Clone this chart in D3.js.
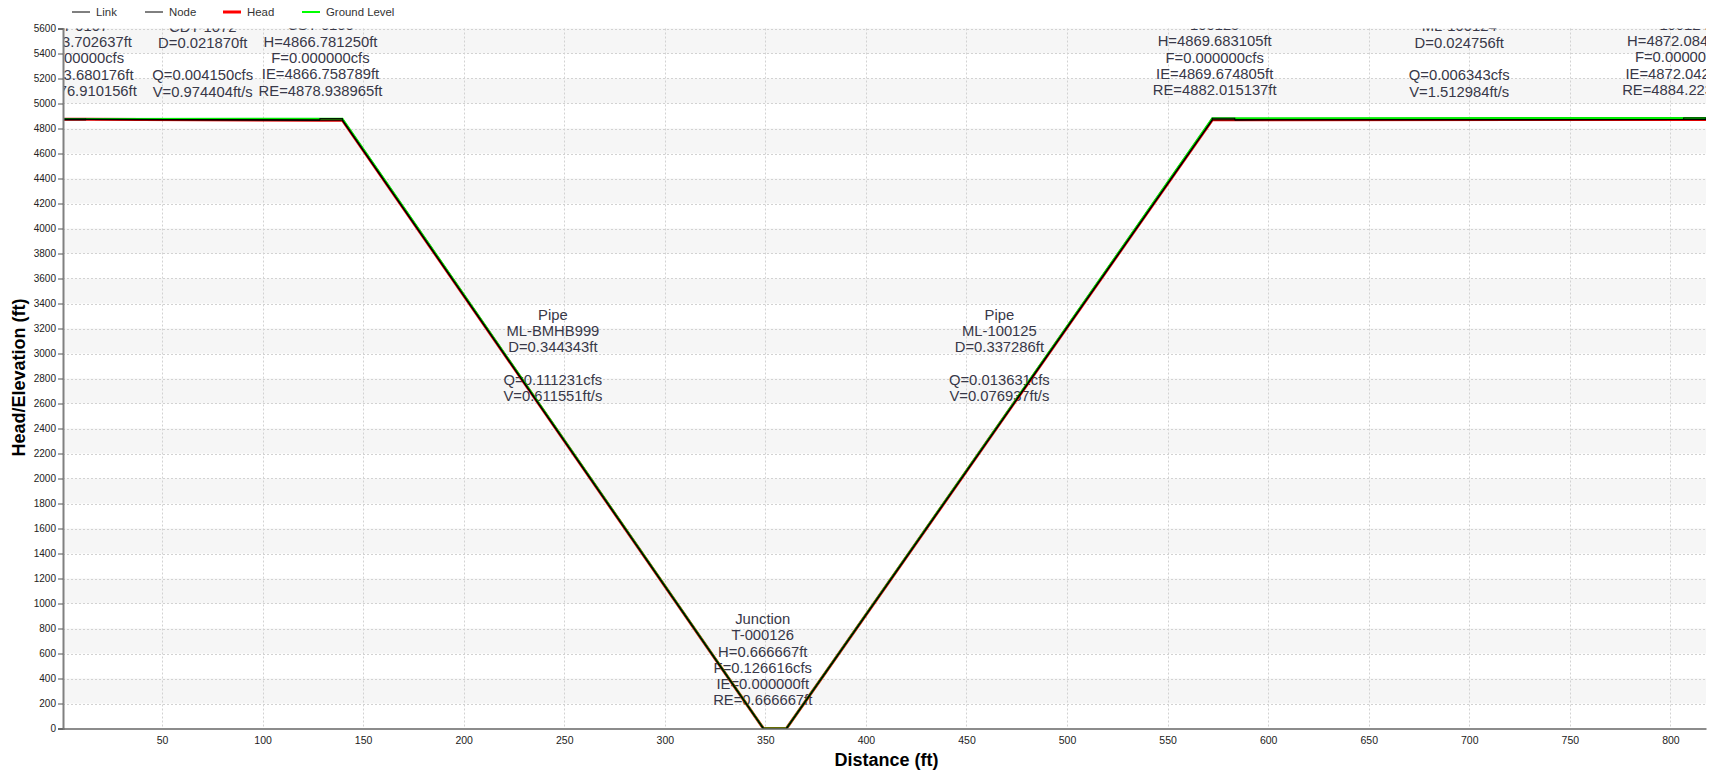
<!DOCTYPE html>
<html><head><meta charset="utf-8">
<script src="https://cdn.jsdelivr.net/npm/d3@7"></script>
<style>body{margin:0;background:#fff;} text{font-family:"Liberation Sans",Arial,sans-serif;}</style>
</head><body><svg id="c" width="1716" height="774"></svg>
<script>
// ---- data ----
const nodeTypes = ["Junction","Junction","Junction","Junction","Junction"];
const nodeIds = ["CST-0107","CST-0100","T-000126","100125","100124"];
const nodeStart = [0.77, 128.5, 349.0, 572.2, 806.6];
const nodeEnd = [12.0, 139.7, 360.5, 583.4, 817.7];
const nodeLabelX = [6.7, 128.8, 348.7, 573.4, 806.8];
const nodeH = [4873.702637, 4866.781250, 0.666667, 4869.683105, 4872.084229];
const nodeF = [0.000000, 0.000000, 0.126616, 0.000000, 0.000000];
const nodeIE = [4873.680176, 4866.758789, 0.000000, 4869.674805, 4872.042236];
const nodeRE = [4876.910156, 4878.938965, 0.666667, 4882.015137, 4884.223145];
const linkTypes = ["Pipe","Pipe","Pipe","Pipe"];
const linkIds = ["CDT-1072","ML-BMHB999","ML-100125","ML-100124"];
const linkD = [0.021870, 0.344343, 0.337286, 0.024756];
const linkQ = [0.004150, 0.111231, 0.013631, 0.006343];
const linkV = [0.974404, 0.611551, 0.076937, 1.512984];
const yTicks = d3.range(0, 5601, 200);
const xTicks = d3.range(50, 801, 50);
const legendNames = ["Link","Node","Head","Ground Level"];
const legendColors = ["#000","#000","#ff0000","#00ff00"];
const legendWidths = [1,1,3,2];

// ---- layout ----
const L = 63, R = 1706, T = 28.5, B = 728.5;
const x = d3.scaleLinear().domain([0.77, 817.7]).range([L, R]);
const y = d3.scaleLinear().domain([0, 5600]).range([B, T]);
const svg = d3.select("#c");

svg.append("defs").append("clipPath").attr("id","clip")
  .append("rect").attr("x",L).attr("y",T).attr("width",R-L).attr("height",B-T);

// bands
svg.append("g").selectAll("rect").data(yTicks.filter(v => v < 5600 && (v/200)%2===1))
  .join("rect").attr("x",L).attr("width",R-L)
  .attr("y",d=>y(d+200)).attr("height",d=>y(d)-y(d+200)).attr("fill","#f6f6f6");

// grid
const grid = svg.append("g").attr("stroke","#d2d2d2").attr("stroke-dasharray","2,2").attr("stroke-width",1);
grid.selectAll("line.h").data(yTicks.filter(v=>v>0)).join("line").attr("class","h")
  .attr("x1",L).attr("x2",R).attr("y1",d=>Math.round(y(d))+0.5).attr("y2",d=>Math.round(y(d))+0.5);
grid.selectAll("line.v").data(xTicks).join("line").attr("class","v")
  .attr("y1",T).attr("y2",B).attr("x1",d=>Math.round(x(d))+0.5).attr("x2",d=>Math.round(x(d))+0.5);

// labels (under lines)
const plot = svg.append("g").attr("clip-path","url(#clip)");
const lh = 16.3, off = 23, fs = 14.8;
function label(cx, anchorVal, lines){
  const base = y(anchorVal) - off;
  const t = plot.append("text").attr("text-anchor","middle").attr("font-size",fs).attr("fill","#383848");
  lines.forEach((s,i)=>{
    t.append("tspan").attr("x",x(cx)).attr("y",base - (lines.length-1-i)*lh).text(s);
  });
}
nodeIds.forEach((id,i)=>{
  label(nodeLabelX[i], nodeRE[i], [nodeTypes[i], id, "H="+nodeH[i].toFixed(6)+"ft",
    "F="+nodeF[i].toFixed(6)+"cfs", "IE="+nodeIE[i].toFixed(6)+"ft", "RE="+nodeRE[i].toFixed(6)+"ft"]);
});
linkIds.forEach((id,i)=>{
  const cx = (nodeEnd[i]+nodeStart[i+1])/2;
  const av = (nodeIE[i]+nodeIE[i+1])/2;
  label(cx, av, [linkTypes[i], id, "D="+linkD[i].toFixed(6)+"ft", "",
    "Q="+linkQ[i].toFixed(6)+"cfs", "V="+linkV[i].toFixed(6)+"ft/s"]);
});

// lines
const line = d3.line().x(d=>x(d[0])).y(d=>y(d[1]));
const ground = [], head = [];
nodeIds.forEach((_,i)=>{
  ground.push([nodeStart[i],nodeRE[i]],[nodeEnd[i],nodeRE[i]]);
  head.push([nodeStart[i],nodeH[i]],[nodeEnd[i],nodeH[i]]);
});
plot.append("path").attr("d",line(head)).attr("fill","none").attr("stroke","#e00000").attr("stroke-width",3);
plot.append("path").attr("d",line(ground)).attr("fill","none").attr("stroke","#00ee00").attr("stroke-width",2);
linkIds.forEach((_,i)=>{
  const inv = [[nodeEnd[i],nodeIE[i]],[nodeStart[i+1],nodeIE[i+1]]];
  const crn = [[nodeEnd[i],nodeIE[i]+linkD[i]],[nodeStart[i+1],nodeIE[i+1]+linkD[i]]];
  plot.append("path").attr("d",line(inv)).attr("fill","none").attr("stroke","#000").attr("stroke-width",1.2);
  plot.append("path").attr("d",line(crn)).attr("fill","none").attr("stroke","#000").attr("stroke-width",1.2);
});
nodeIds.forEach((_,i)=>{
  plot.append("rect").attr("x",x(nodeStart[i])).attr("width",x(nodeEnd[i])-x(nodeStart[i]))
    .attr("y",y(nodeRE[i])).attr("height",Math.max(1,y(nodeIE[i])-y(nodeRE[i])))
    .attr("fill","none").attr("stroke","#000").attr("stroke-width",1);
});

// axes
const ya = svg.append("g").attr("transform",`translate(${L},0)`)
  .call(d3.axisLeft(y).tickValues(yTicks).tickSize(5).tickPadding(2).tickFormat(d3.format("d")));
ya.select(".domain").attr("stroke","#808080").attr("stroke-width",2);
ya.selectAll(".tick line").attr("stroke","#555");
ya.selectAll("text").attr("font-size",10).attr("fill","#222").attr("font-family","Liberation Sans, Arial, sans-serif");
const xa = svg.append("g").attr("transform",`translate(0,${B})`)
  .call(d3.axisBottom(x).tickValues(xTicks).tickSize(0).tickPadding(8).tickFormat(d3.format("d")));
xa.select(".domain").attr("stroke","#666").attr("stroke-width",1.5);
xa.selectAll("text").attr("font-size",10.5).attr("fill","#222").attr("font-family","Liberation Sans, Arial, sans-serif");

// titles
svg.append("text").attr("x",886.5).attr("y",766).attr("text-anchor","middle")
  .attr("font-size",18).attr("font-weight","bold").attr("fill","#000").text("Distance (ft)");
svg.append("text").attr("transform","translate(25,377.5) rotate(-90)").attr("text-anchor","middle")
  .attr("font-size",18).attr("font-weight","bold").attr("fill","#000").text("Head/Elevation (ft)");

// legend
const lgX = [72,145,223,302];
legendNames.forEach((n,i)=>{
  svg.append("line").attr("x1",lgX[i]).attr("x2",lgX[i]+18).attr("y1",12).attr("y2",12)
    .attr("stroke",legendColors[i]).attr("stroke-width",legendWidths[i]);
  svg.append("text").attr("x",lgX[i]+24).attr("y",16).attr("font-size",11.4).attr("fill","#333").text(n);
});
</script></body></html>
